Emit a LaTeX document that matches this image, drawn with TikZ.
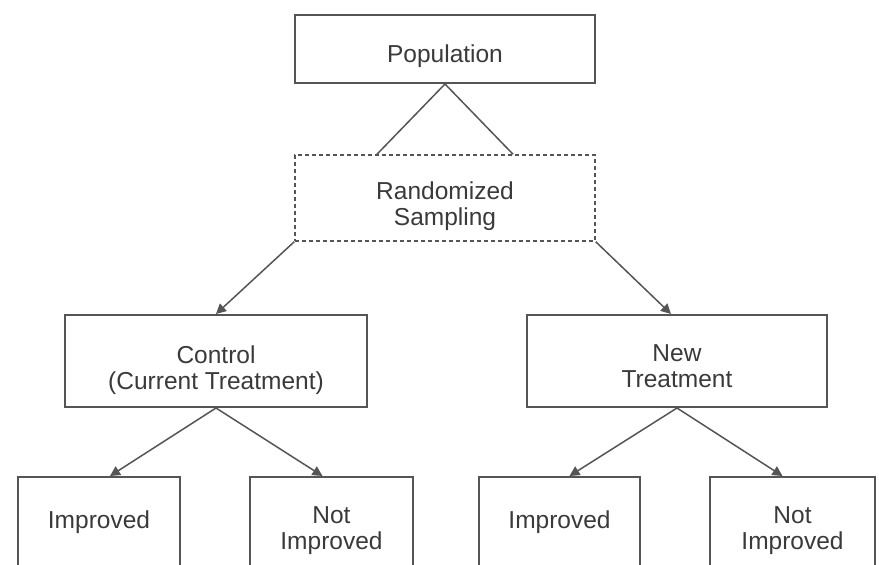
\documentclass[tikz,border=0pt]{standalone}
\usepackage{fontspec}
\setmainfont{Liberation Sans}
\usetikzlibrary{arrows.meta,calc}
\definecolor{linec}{HTML}{555555}
\definecolor{textc}{HTML}{3A3A3A}
\newcommand\dn[1]{\rule{0pt}{#1pt}}
\begin{document}
\begin{tikzpicture}[x=1pt,y=-1pt,
  box/.style={draw=linec, line width=2pt, fill=white, text=textc, align=center, inner sep=0pt,
    font=\fontsize{24.5}{26}\selectfont},
  dbox/.style={box, line width=1.5pt, dash pattern=on 4pt off 3pt},
  conn/.style={draw=linec, line width=1.5pt},
  arr/.style={conn, -{Triangle[length=10pt,width=10pt]}}
]
\clip (0,0) rectangle (879,565);
\fill[white] (0,0) rectangle (879,565);
\node[box, minimum width=300pt, minimum height=68pt] (pop) at (445,49) {\dn{32}Population};
\node[dbox, minimum width=300pt, minimum height=86pt] (rand) at (445,198) {\dn{34}Randomized\\Sampling};
\node[box, minimum width=302pt, minimum height=92pt] (ctrl) at (216,361) {\dn{36}Control\\(Current Treatment)};
\node[box, minimum width=300pt, minimum height=92pt] (new) at (677,361) {\dn{28}New\\Treatment};
\node[box, minimum width=162pt, minimum height=90pt] (i1) at (99,522) {Improved};
\node[box, minimum width=163pt, minimum height=90pt] (n1) at (331.5,522) {\dn{34}Not\\Improved};
\node[box, minimum width=161pt, minimum height=90pt] (i2) at (559.5,522) {Improved};
\node[box, minimum width=165pt, minimum height=90pt] (n2) at (792.5,522) {\dn{34}Not\\Improved};
\coordinate (rl) at ($(rand.north)+(-68,0)$);
\coordinate (rr) at ($(rand.north)+(68,0)$);
\draw[conn] (pop.south) -- (rl);
\draw[conn] (pop.south) -- (rr);
\draw[arr] (rand.south west) -- (ctrl.north);
\draw[arr] (rand.south east) -- ($(new.north)+(-6,0)$);
\draw[arr] (ctrl.south) -- ($(i1.north)+(11,0)$);
\draw[arr] (ctrl.south) -- ($(n1.north)+(-9,0)$);
\draw[arr] (new.south) -- ($(i2.north)+(10,0)$);
\draw[arr] (new.south) -- ($(n2.north)+(-10,0)$);
\end{tikzpicture}
\end{document}
